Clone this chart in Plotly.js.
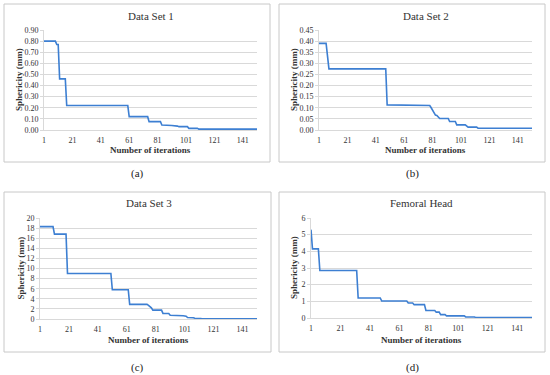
<!DOCTYPE html>
<html>
<head>
<meta charset="utf-8">
<script src="https://cdn.plot.ly/plotly-3.0.1.min.js"></script>
<style>html,body{margin:0;padding:0;background:#fff;}#chart{width:550px;height:375px;}</style>
</head>
<body>
<div id="chart"></div>
<script>
// ---- data ----
const panelTitles = ["Data Set 1", "Data Set 2", "Data Set 3", "Femoral Head"];
const panelLabels = ["(a)", "(b)", "(c)", "(d)"];
const xTitle = "Number of iterations";
const yTitle = "Sphericity (mm)";
const xTickVals = [1, 21, 41, 61, 81, 101, 121, 141];

const set1Iter = [1, 9, 10, 11, 12, 16, 17, 60, 61, 74, 75, 83, 84, 90, 91, 95, 96, 102, 103, 109, 110, 151];
const set1Val  = [0.80, 0.80, 0.77, 0.77, 0.46, 0.46, 0.22, 0.22, 0.12, 0.12, 0.075, 0.075, 0.045, 0.045, 0.04, 0.035, 0.03, 0.03, 0.015, 0.015, 0.008, 0.008];

const set2Iter = [1, 6, 8, 48, 49, 78, 79, 80, 81, 82, 83, 84, 86, 92, 93, 97, 98, 104, 105, 106, 112, 113, 151];
const set2Val  = [0.39, 0.39, 0.275, 0.275, 0.113, 0.113, 0.11, 0.10, 0.09, 0.08, 0.067, 0.065, 0.052, 0.052, 0.038, 0.038, 0.023, 0.023, 0.018, 0.013, 0.013, 0.008, 0.008];

const set3Iter = [1, 10, 11, 19, 20, 50, 51, 62, 63, 75, 76, 77, 78, 79, 85, 86, 90, 91, 97, 100, 102, 103, 107, 108, 112, 113, 151];
const set3Val  = [18.3, 18.3, 16.8, 16.8, 9.0, 9.0, 5.8, 5.8, 2.9, 2.9, 2.7, 2.5, 2.2, 1.75, 1.75, 1.1, 1.1, 0.75, 0.75, 0.65, 0.55, 0.3, 0.25, 0.15, 0.1, 0.03, 0.03];

const femIter = [1, 2, 6, 7, 32, 33, 48, 49, 66, 67, 70, 71, 78, 79, 85, 86, 88, 89, 92, 93, 105, 106, 112, 113, 151];
const femVal  = [5.3, 4.15, 4.15, 2.85, 2.85, 1.2, 1.2, 1.02, 1.02, 0.9, 0.9, 0.8, 0.8, 0.45, 0.45, 0.35, 0.35, 0.2, 0.2, 0.13, 0.13, 0.06, 0.06, 0.02, 0.02];

const yRanges = [[0, 0.9], [0, 0.45], [0, 20], [0, 6]];
const yDticks = [0.1, 0.05, 2, 1];
const yFormats = [".2f", ".2f", "d", "d"];

// ---- layout geometry (pixels) ----
const W = 550, H = 375;
const plotBoxes = [ // [left, right, top, bottom]
  [44, 257, 30, 130],
  [319, 532, 30, 130],
  [40, 257, 218, 319],
  [311, 532, 218, 318]
];
const panelBoxes = [ // [left, top, right, bottom]
  [4, 4, 270, 162],
  [279, 4, 545, 162],
  [4, 192, 271, 352],
  [279, 192, 545, 352]
];
const titleY = [16, 16, 203, 203];
const xTitleY = [150, 150, 340, 340];
const yTitleX = [19, 294, 20, 294];
const labelY = [173, 173, 367, 367];
const labelX = [137, 412, 137, 412];

const series = [[set1Iter, set1Val], [set2Iter, set2Val], [set3Iter, set3Val], [femIter, femVal]];
const px = x => x / W, py = y => 1 - y / H;

const serif = "'Liberation Serif', 'Times New Roman', serif";
const lineColor = "#3d7fd2";
const gridColor = "#d9d9d9";
const textColor = "#333333";

const traces = [];
const layout = {
  width: W, height: H,
  margin: {l: 0, r: 0, t: 0, b: 0},
  paper_bgcolor: "#fff", plot_bgcolor: "#fff",
  showlegend: false,
  font: {family: serif, size: 8, color: textColor},
  annotations: [], shapes: []
};

series.forEach((s, i) => {
  const n = i === 0 ? "" : String(i + 1);
  traces.push({
    x: s[0], y: s[1], type: "scatter", mode: "lines",
    line: {color: lineColor, width: 1.6},
    xaxis: "x" + n, yaxis: "y" + n, hoverinfo: "skip"
  });
  const b = plotBoxes[i];
  layout["xaxis" + n] = {
    domain: [px(b[0]), px(b[1])], anchor: "y" + n,
    range: [1, 151], tickvals: xTickVals, ticktext: xTickVals.map(String),
    showgrid: false, zeroline: false, showline: true, linecolor: gridColor, linewidth: 1,
    ticks: "outside", ticklen: 2, tickcolor: "rgba(0,0,0,0)",
    tickfont: {family: serif, size: 8, color: textColor}, fixedrange: true
  };
  layout["yaxis" + n] = {
    domain: [py(b[3]), py(b[2])], anchor: "x" + n,
    range: yRanges[i], dtick: yDticks[i], tick0: 0, tickformat: yFormats[i],
    showgrid: true, gridcolor: gridColor, gridwidth: 1, zeroline: false,
    showline: true, linecolor: gridColor, linewidth: 1,
    ticks: "outside", ticklen: 3, tickcolor: gridColor,
    tickfont: {family: serif, size: 8, color: textColor}, fixedrange: true
  };
  const p = panelBoxes[i];
  layout.shapes.push({type: "rect", xref: "paper", yref: "paper",
    x0: px(p[0]), x1: px(p[2]), y0: py(p[3]), y1: py(p[1]),
    line: {color: "#c8c8c8", width: 1}, fillcolor: "rgba(0,0,0,0)"});
  const cx = (b[0] + b[1]) / 2;
  layout.annotations.push({text: panelTitles[i], xref: "paper", yref: "paper",
    x: px(cx), y: py(titleY[i]), xanchor: "center", yanchor: "middle", showarrow: false,
    font: {family: serif, size: 11, color: textColor}});
  layout.annotations.push({text: "<b>" + xTitle + "</b>", xref: "paper", yref: "paper",
    x: px(cx), y: py(xTitleY[i]), xanchor: "center", yanchor: "middle", showarrow: false,
    font: {family: serif, size: 9, color: textColor}});
  layout.annotations.push({text: "<b>" + yTitle + "</b>", xref: "paper", yref: "paper",
    x: px(yTitleX[i]), y: py((b[2] + b[3]) / 2), xanchor: "center", yanchor: "middle",
    textangle: -90, showarrow: false,
    font: {family: serif, size: 9, color: textColor}});
  layout.annotations.push({text: panelLabels[i], xref: "paper", yref: "paper",
    x: px(labelX[i]), y: py(labelY[i]), xanchor: "center", yanchor: "middle", showarrow: false,
    font: {family: serif, size: 11, color: "#1a1a1a"}});
});

Plotly.newPlot("chart", traces, layout, {staticPlot: true, displayModeBar: false});
</script>
</body>
</html>
